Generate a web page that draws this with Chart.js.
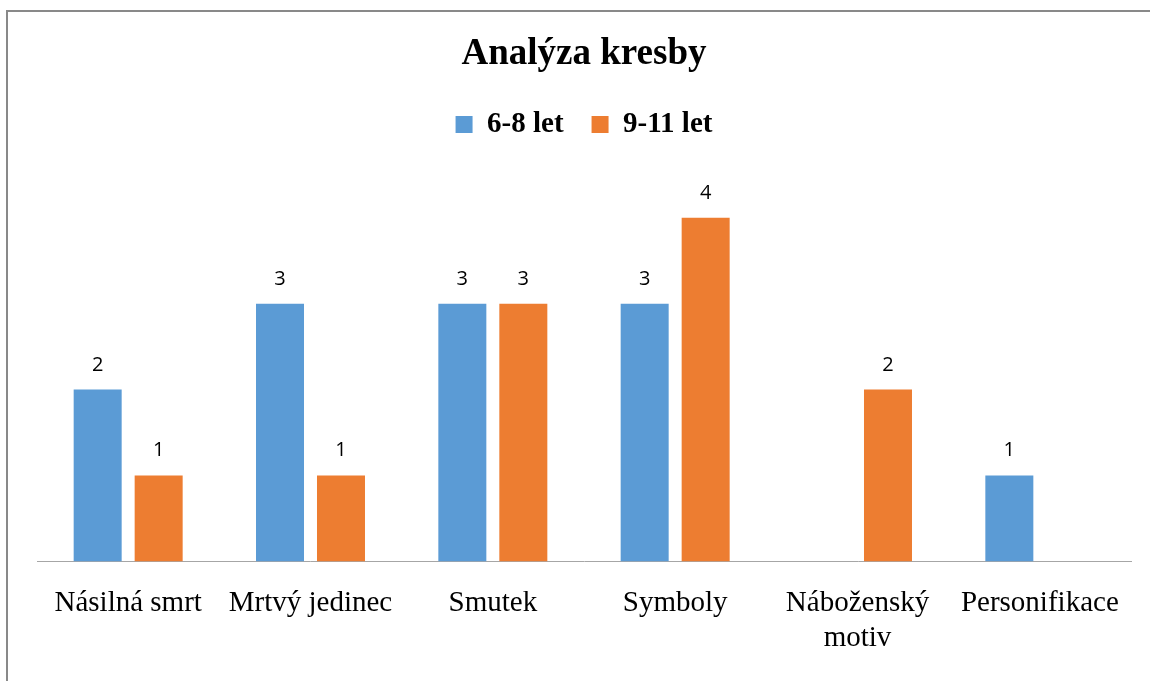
<!DOCTYPE html>
<html>
<head>
<meta charset="utf-8">
<script src="https://cdn.jsdelivr.net/npm/chart.js@4.4.1/dist/chart.umd.min.js"></script>
<style>
  html, body { margin: 0; padding: 0; background: #ffffff; }
  #wrap { position: relative; width: 1150px; height: 681px; overflow: hidden; background: #ffffff; }
  #frame { position: absolute; left: 6px; top: 10px; width: 1200px; height: 720px;
           border-left: 2px solid #898989; border-top: 2px solid #898989; pointer-events: none; }
  canvas { position: absolute; left: 0; top: 0; }
</style>
</head>
<body>
<div id="wrap">
  <canvas id="c" width="1150" height="681"></canvas>
  <div id="frame"></div>
</div>
<script>
const chartTitle = 'Analýza kresby';
const categories = ['Násilná smrt', 'Mrtvý jedinec', 'Smutek', 'Symboly', ['Náboženský', 'motiv'], 'Personifikace'];
const seriesNames = ['6-8 let', '9-11 let'];
const values68 = [2, 3, 3, 3, null, 1];
const values911 = [1, 1, 3, 4, 2, null];
const seriesColors = ['#5B9BD5', '#ED7D31'];

const valueLabels = {
  id: 'valueLabels',
  afterDatasetsDraw(chart) {
    const ctx = chart.ctx;
    ctx.save();
    ctx.font = '20px "Open Sans", "Liberation Sans", sans-serif';
    ctx.fillStyle = '#000000';
    ctx.textAlign = 'center';
    ctx.textBaseline = 'alphabetic';
    chart.data.datasets.forEach((ds, di) => {
      const meta = chart.getDatasetMeta(di);
      meta.data.forEach((bar, i) => {
        const v = ds.data[i];
        if (v === null || v === undefined) return;
        ctx.fillText(String(v), bar.x, bar.y - 19);
      });
    });
    ctx.restore();
  }
};

new Chart(document.getElementById('c'), {
  type: 'bar',
  data: {
    labels: categories,
    datasets: [
      { label: seriesNames[0], data: values68, backgroundColor: seriesColors[0], borderWidth: 0 },
      { label: seriesNames[1], data: values911, backgroundColor: seriesColors[1], borderWidth: 0 }
    ]
  },
  options: {
    responsive: false,
    animation: false,
    events: [],
    categoryPercentage: 0.669,
    barPercentage: 0.787,
    layout: { padding: { left: 37, right: 19, top: 0, bottom: 0 } },
    plugins: {
      title: {
        display: true,
        text: chartTitle,
        color: '#000000',
        font: { family: '"Liberation Serif", "Times New Roman", serif', size: 37, weight: 'bold', lineHeight: 1.0 },
        padding: { top: 36, bottom: 9 }
      },
      legend: {
        display: true,
        position: 'top',
        labels: {
          color: '#000000',
          boxWidth: 17,
          boxHeight: 17,
          padding: 28,
          font: { family: '"Liberation Serif", "Times New Roman", serif', size: 29, weight: 'bold' }
        }
      },
      tooltip: { enabled: false }
    },
    scales: {
      x: {
        grid: { display: false, drawTicks: false },
        border: { display: true, color: '#a6a6a6', width: 1 },
        ticks: {
          color: '#000000',
          padding: 25,
          maxRotation: 0,
          autoSkip: false,
          font: { family: '"Liberation Serif", "Times New Roman", serif', size: 29, lineHeight: 1.2 }
        }
      },
      y: {
        display: false,
        min: 0,
        max: 4.8
      }
    }
  },
  plugins: [valueLabels]
});
</script>
</body>
</html>
